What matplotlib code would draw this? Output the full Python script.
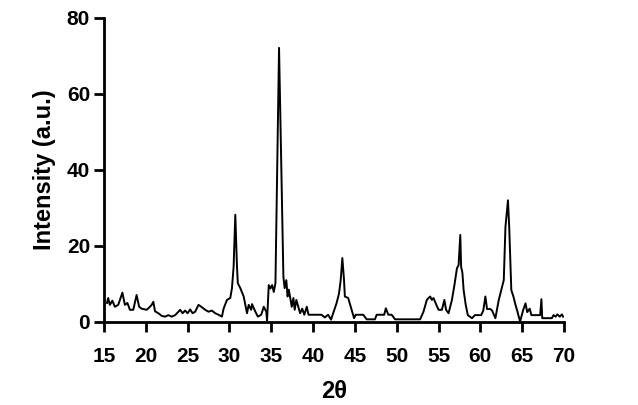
import matplotlib
matplotlib.use("Agg")
import matplotlib.pyplot as plt
import numpy as np

two_theta = [
    15.36, 15.5, 15.7, 16.0, 16.3, 16.7, 17.2, 17.5, 17.8, 18.1, 18.5, 18.9, 19.2, 19.5,
    20.1, 20.5, 20.7, 20.9, 21.1, 21.5, 21.9, 22.3, 22.7, 23.1, 23.5, 23.9, 24.1, 24.4,
    24.7, 25.0, 25.3, 25.6, 25.9, 26.3, 26.7, 27.1, 27.5, 27.9, 28.3, 28.7, 29.1, 29.3,
    29.7, 30.1, 30.3, 30.5, 30.7, 30.9, 31.0, 31.3, 31.7, 32.1, 32.3, 32.6, 32.7, 33.1,
    33.4, 33.8, 34.1, 34.4, 34.5, 34.7, 34.9, 35.1, 35.3, 35.5, 35.93, 36.45, 36.6, 36.8,
    36.95, 37.1, 37.45, 37.65, 37.8, 38.0, 38.45, 38.7, 38.95, 39.25, 39.45, 40.2, 41.0,
    41.4, 41.8, 42.15, 42.4, 42.8, 43.1, 43.3, 43.5, 43.7, 43.8, 44.2, 44.5, 44.9, 45.1,
    46.0, 46.4, 47.4, 47.6, 48.5, 48.7, 49.0, 49.4, 49.8, 52.8, 53.2, 53.6, 53.8, 54.0,
    54.2, 54.4, 54.7, 55.0, 55.4, 55.7, 55.9, 56.2, 56.6, 56.9, 57.2, 57.4, 57.6, 57.7,
    57.85, 58.0, 58.25, 58.5, 59.0, 59.35, 60.1, 60.35, 60.6, 60.8, 61.2, 61.4, 61.8,
    62.2, 62.6, 62.8, 63.0, 63.3, 63.45, 63.7, 63.95, 64.2, 64.4, 64.75, 65.1, 65.4,
    65.6, 65.9, 66.1, 67.15, 67.3, 67.4, 68.55, 68.75, 69.0, 69.2, 69.5, 69.75, 69.9,
]
intensity = [
    5.0, 6.3, 4.5, 5.6, 4.0, 4.5, 7.7, 4.5, 5.0, 3.2, 3.2, 7.1, 4.0, 3.5,
    3.2, 4.0, 4.5, 5.3, 2.8, 2.3, 1.6, 1.4, 1.8, 1.4, 1.8, 2.7, 3.2, 2.3,
    3.0, 2.3, 3.3, 2.3, 2.7, 4.5, 3.9, 3.2, 2.7, 3.0, 2.3, 1.9, 1.4, 3.5,
    5.8, 6.3, 8.9, 14.6, 28.2, 14.6, 10.2, 8.9, 6.7, 2.3, 4.5, 3.2, 4.7, 2.7,
    1.4, 1.9, 4.0, 2.7, 0.4, 9.7, 8.8, 9.7, 7.9, 10.2, 72.1, 11.9, 8.9, 11.0,
    6.7, 8.5, 4.0, 6.3, 3.2, 5.8, 2.3, 3.5, 1.9, 4.0, 1.9, 1.9, 1.9,
    1.2, 1.9, 0.6, 2.3, 4.9, 7.5, 11.0, 16.8, 11.0, 6.7, 6.3, 4.0, 1.0, 1.9,
    1.9, 0.7, 0.7, 1.9, 1.9, 3.6, 1.9, 1.9, 0.7, 0.7, 2.7, 5.8, 6.3, 6.7,
    5.8, 6.3, 4.7, 3.2, 3.2, 5.8, 3.2, 2.3, 5.8, 9.7, 14.1, 15.0, 22.9, 14.5,
    13.0, 8.4, 4.5, 1.8, 1.0, 1.8, 1.8, 3.0, 6.7, 3.4, 3.4, 3.0, 1.0,
    5.8, 9.3, 11.0, 25.0, 32.0, 25.0, 8.4, 6.7, 4.5, 3.0, 0.1, 3.0, 4.9,
    2.6, 3.5, 1.8, 1.8, 6.0, 1.0, 1.0, 1.8, 1.4, 2.0, 1.4, 2.0, 1.4,
]

plt.rcParams["font.family"] = ["Liberation Sans", "DejaVu Sans"]
plt.rcParams["font.weight"] = "bold"

fig = plt.figure(figsize=(6.38, 4.05), dpi=100, facecolor="white")
ax = fig.add_axes([0.163, 0.205, 0.721, 0.751])

ax.plot(two_theta, intensity, color="black", linewidth=1.4)

ax.set_xlim(15, 70)
ax.set_ylim(0, 80)
ax.set_xticks(np.arange(15, 71, 5))
ax.set_yticks(np.arange(0, 81, 20))

ax.set_xlabel("2θ", fontsize=17, fontweight="bold", labelpad=10)
ax.set_ylabel("Intensity (a.u.)", fontsize=17, fontweight="bold", labelpad=8)

for side in ["top", "right"]:
    ax.spines[side].set_visible(False)
for side in ["left", "bottom"]:
    ax.spines[side].set_linewidth(2.0)
    ax.spines[side].set_color("black")

ax.tick_params(direction="out", length=7, width=2.0, labelsize=15)
ax.tick_params(axis="x", pad=11)
ax.tick_params(axis="y", pad=3)
for lab in ax.get_xticklabels() + ax.get_yticklabels():
    lab.set_fontweight("bold")

fig.savefig("out.png", dpi=100, facecolor="white")
